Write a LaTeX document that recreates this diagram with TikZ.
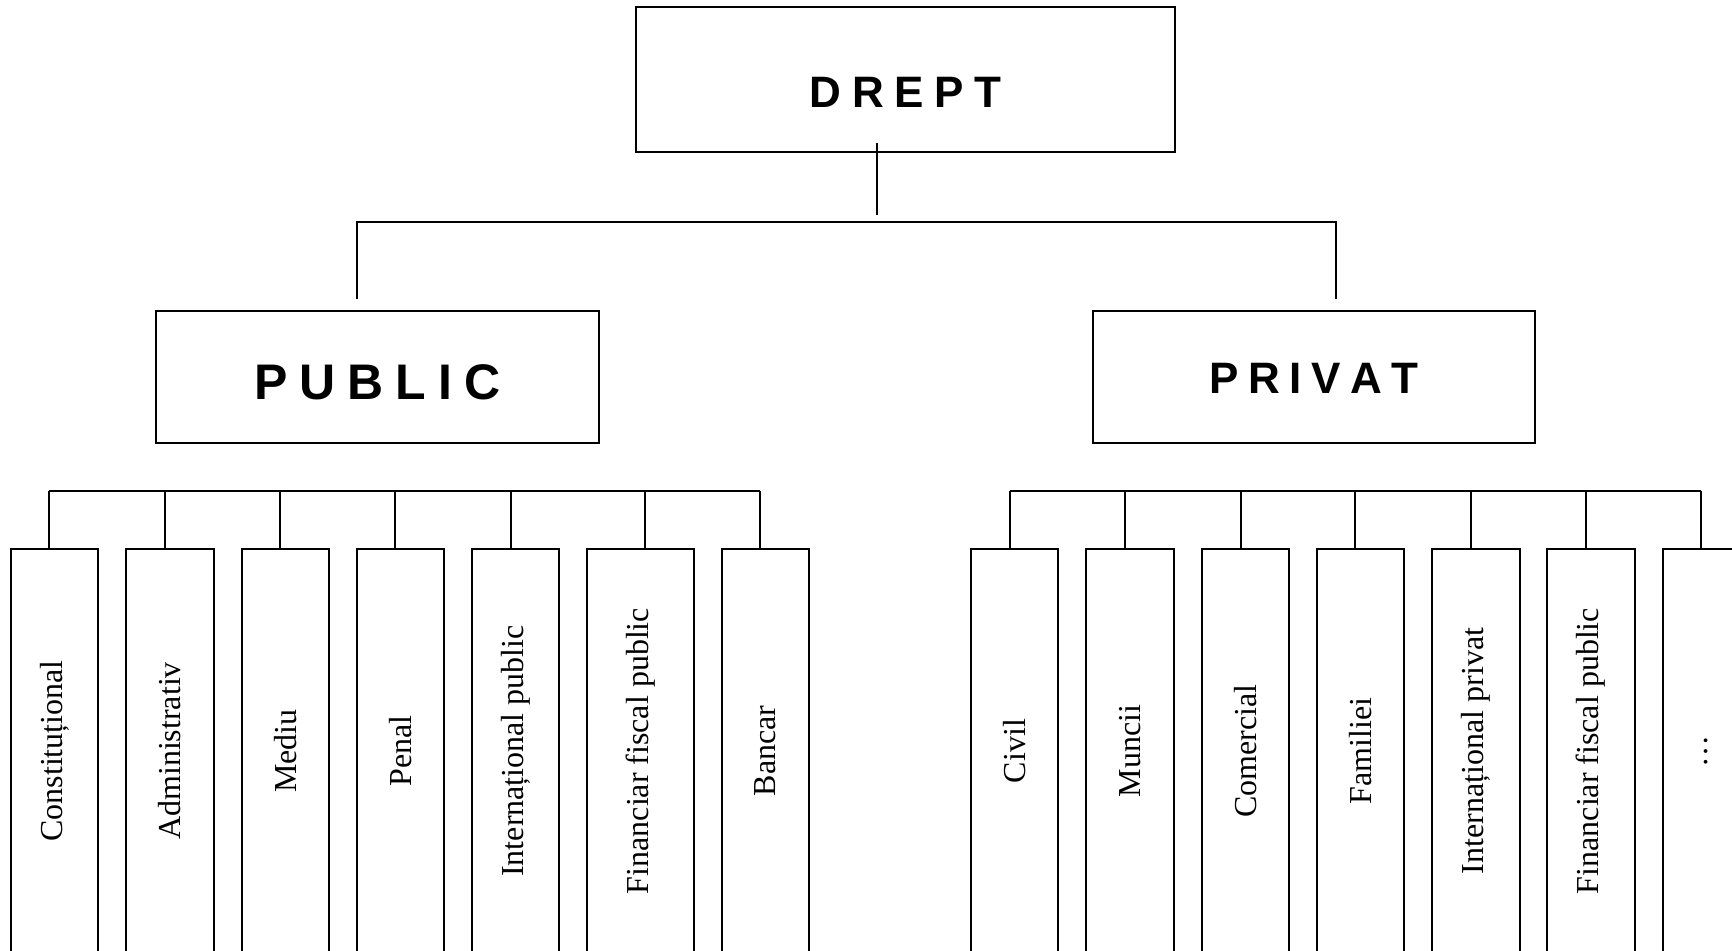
\documentclass[tikz,border=0pt]{standalone}
\usepackage{fontspec}
\setmainfont{Liberation Serif}
\newfontfamily\hdfont{Liberation Sans}
\begin{document}
\begin{tikzpicture}[x=0.5pt,y=-0.5pt,line width=1pt,
  hdbox/.style={draw,line width=1pt,inner sep=0pt},
  leaf/.style={draw,line width=1pt,inner sep=0pt,minimum height=202pt,font=\fontsize{16}{19}\selectfont},
  wire/.style={line width=1pt}]
\useasboundingbox (0,0) rectangle (1732,951);
\clip (0,0) rectangle (1732,951);
% top level
\node[hdbox,minimum width=269.5pt,minimum height=72.5pt,font=\hdfont\bfseries\fontsize{22}{26}\selectfont] (drept) at (905.5,79.5) {\raisebox{-6.25pt}[\height][\depth]{D\hspace{5.25pt}R\hspace{5.25pt}E\hspace{5.25pt}P\hspace{5.25pt}T}};
\node[hdbox,minimum width=221.5pt,minimum height=66pt,font=\hdfont\bfseries\fontsize{25}{30}\selectfont] (public) at (377.5,377) {\raisebox{-2.5pt}[\height][\depth]{P\hspace{5.95pt}U\hspace{5.95pt}B\hspace{5.95pt}L\hspace{5.95pt}I\hspace{5.95pt}C}};
\node[hdbox,minimum width=221.25pt,minimum height=66pt,font=\hdfont\bfseries\fontsize{22}{26}\selectfont] (privat) at (1313.75,377) {\raisebox{-0.5pt}[\height][\depth]{P\hspace{4.8pt}R\hspace{4.8pt}I\hspace{4.8pt}V\hspace{4.8pt}A\hspace{4.8pt}T}};
% top connectors
\coordinate (dtop) at (877,143);
\coordinate (dbus) at (877,215);
\coordinate (busL) at (357,222);
\coordinate (busR) at (1336,222);
\coordinate (pubin) at (357,299);
\coordinate (privin) at (1336,299);
\draw[wire] (dtop) -- (dbus);
\draw[wire] (pubin) -- (busL) -- (busR) -- (privin);
% public branch
\coordinate (pa) at (49.4,491);
\coordinate (pb) at (760,491);
\draw[wire] (pa) -- (pb);
\foreach \n/\cx/\w/\kx/\t in {1/54.5/43.85pt/49.4/Constituțional,2/169.9/43.6pt/165/Administrativ,3/285.1/43.6pt/279.8/Mediu,4/400.5/43.8pt/395.3/Penal,5/515.5/43.6pt/510.5/Internațional public,6/640.5/53.5pt/645/Financiar fiscal public,7/765.2/43.5pt/760/Bancar}{
  \node[leaf,minimum width=\w] (P\n) at (\cx,751) {\rotatebox{90}{\t}};
  \coordinate (PK\n) at (\kx,491);
  \draw[wire] (PK\n) -- (PK\n |- P\n.north);
}
% private branch
\coordinate (ra) at (1009.7,491);
\coordinate (rb) at (1701,491);
\draw[wire] (ra) -- (rb);
\foreach \n/\cx/\w/\kx/\t in {1/1014.6/43.85pt/1009.7/Civil,2/1130.3/43.85pt/1125/Muncii,3/1245.3/43.55pt/1240.6/Comercial,4/1360.5/43.5pt/1355.4/Familiei,5/1476/43.8pt/1470.6/Internațional privat,6/1591/43.55pt/1585.8/Financiar fiscal public,7/1706.3/43.7pt/1701/…}{
  \node[leaf,minimum width=\w] (R\n) at (\cx,751) {\rotatebox{90}{\t}};
  \coordinate (RK\n) at (\kx,491);
  \draw[wire] (RK\n) -- (RK\n |- R\n.north);
}
\end{tikzpicture}
\end{document}
